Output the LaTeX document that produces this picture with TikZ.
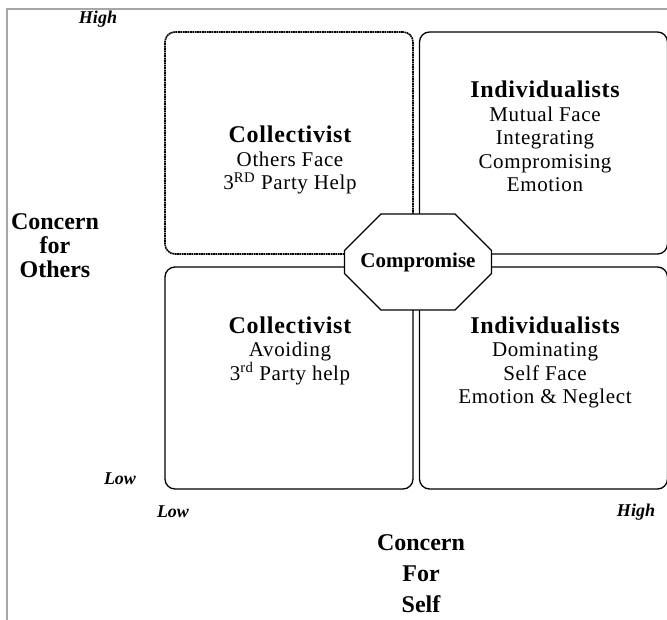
\documentclass[tikz,border=0pt]{standalone}
\usepackage{fontspec}
\setmainfont{Liberation Serif}
\newfontfamily\spacedfont[LetterSpace=3]{Liberation Serif}
\usetikzlibrary{shapes.misc}
\begin{document}
\begin{tikzpicture}[x=1pt,y=-1pt,
  quad/.style={draw=black,line width=1.3pt,rounded corners=10pt,minimum width=248pt,minimum height=222pt,inner sep=0pt},
  dotquad/.style={quad,line width=1.6pt,dash pattern=on 1.8pt off 0.6pt},
  body/.style={align=center,font=\spacedfont\fontsize{21}{23.5}\selectfont,inner sep=0pt},
  axis/.style={font=\fontsize{18}{20}\selectfont\bfseries\itshape,inner sep=0pt},
  big/.style={align=center,font=\fontsize{24}{24}\selectfont\bfseries,inner sep=0pt},
  frame/.style={draw=black!35,line width=2pt}]
\useasboundingbox (0,0) rectangle (667,620);
\fill[white] (0,0) rectangle (667,620);
\draw[frame] (7,620) -- (7,9) -- (667,9);

\node[dotquad] (tl) at (289,143) {};
\node[quad] (tr) at (543.5,143) {};
\node[quad] (bl) at (289,378) {};
\node[quad] (br) at (543.5,378) {};

\node[chamfered rectangle,draw=black,fill=white,line width=1.3pt,
      minimum width=147pt,minimum height=96pt,inner sep=0pt,
      chamfered rectangle xsep=27pt,chamfered rectangle ysep=27pt,
      font=\fontsize{21}{21}\selectfont\bfseries] (comp) at (418,262) {Compromise};

\node[body] (tltext) at (290,160) {{\fontsize{24}{23.5}\selectfont\bfseries Collectivist}\\Others Face\\3\textsuperscript{RD} Party Help};
\node[body] (trtext) at (545,136.5) {{\fontsize{24}{23.5}\selectfont\bfseries Individualists}\\Mutual Face\\Integrating\\Compromising\\Emotion};
\node[body] (bltext) at (290,350.5) {{\fontsize{24}{23.5}\selectfont\bfseries Collectivist}\\Avoiding\\3\textsuperscript{rd} Party help};
\node[body] (brtext) at (545,362.5) {{\fontsize{24}{23.5}\selectfont\bfseries Individualists}\\Dominating\\Self Face\\Emotion \& Neglect};

\node[big] (others) at (55,246) {Concern\\for\\Others};
\node[big,font=\fontsize{24}{31}\selectfont\bfseries] (self) at (421,574) {Concern\\For\\Self};

\node[axis] (highy) at (98,19) {High};
\node[axis] (lowy) at (120,479) {Low};
\node[axis] (lowx) at (173,512) {Low};
\node[axis] (highx) at (636,512) {High};
\end{tikzpicture}
\end{document}
